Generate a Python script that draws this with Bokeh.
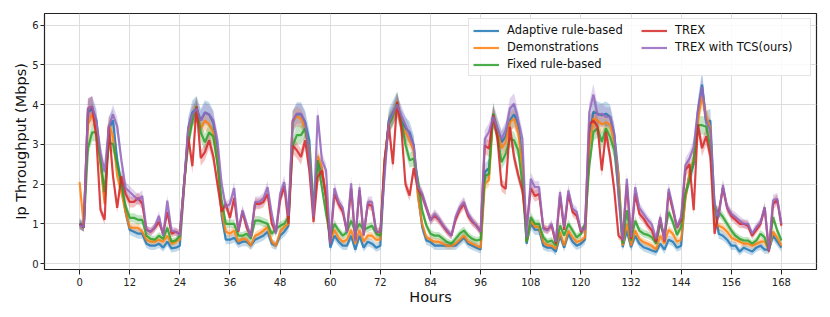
from bokeh.plotting import figure
from bokeh.models import Range1d, Legend, LegendItem, FixedTicker
from bokeh.embed import file_html
from bokeh.resources import INLINE

hours = list(range(169))

adaptive = [
    1.0, 0.95, 3.8, 3.9, 3.6, 2.6, 1.6, 3.4, 3.6, 2.6, 2.0, 1.3,
    0.85, 0.8, 0.75, 0.75, 0.5, 0.45, 0.45, 0.5, 0.4, 0.55, 0.38, 0.4,
    0.45, 1.9, 3.4, 3.8, 3.9, 3.6, 3.8, 3.75, 3.55, 2.8, 1.2, 0.6,
    0.6, 0.65, 0.5, 0.55, 0.55, 0.45, 0.6, 0.65, 0.7, 0.8, 0.5, 0.45,
    0.7, 0.8, 0.95, 3.55, 3.75, 3.75, 3.55, 3.1, 1.4, 2.55, 2.35, 1.65,
    0.4, 0.7, 0.55, 0.45, 0.45, 0.7, 0.35, 0.7, 0.4, 0.55, 0.5, 0.4,
    0.45, 2.4, 3.6, 3.8, 4.0, 3.6, 3.4, 3.3, 2.97, 1.76, 0.92, 0.58,
    0.54, 0.45, 0.45, 0.45, 0.45, 0.45, 0.45, 0.55, 0.65, 0.5, 0.45, 0.4,
    0.35, 2.3, 2.4, 3.75, 3.4, 3.05, 3.2, 3.6, 3.75, 3.5, 2.6, 0.5,
    1.0, 0.85, 0.85, 0.45, 0.4, 0.4, 0.3, 0.7, 0.4, 0.75, 0.55, 0.45,
    0.5, 0.6, 3.2, 3.82, 3.77, 3.73, 3.77, 3.69, 3.23, 2.26, 0.41, 0.83,
    0.41, 0.7, 0.5, 0.41, 0.37, 0.33, 0.29, 0.5, 0.35, 0.6, 0.55, 0.4,
    0.45, 1.7, 2.2, 2.5, 3.8, 4.5, 3.55, 3.6, 1.4, 0.75, 0.7, 0.6,
    0.45, 0.45, 0.3, 0.4, 0.35, 0.3, 0.4, 0.45, 0.35, 0.35, 0.7, 0.55, 0.4,
]

demonstrations = [
    2.05, 0.95, 3.5, 3.75, 3.5, 2.5, 1.5, 3.5, 3.2, 2.2, 1.8, 1.3,
    0.9, 0.9, 0.9, 0.8, 0.6, 0.55, 0.55, 0.6, 0.55, 0.7, 0.5, 0.55,
    0.6, 1.9, 3.3, 3.7, 3.8, 3.4, 3.6, 3.5, 3.3, 2.6, 1.3, 0.8,
    0.75, 0.83, 0.55, 0.62, 0.6, 0.45, 0.7, 0.75, 0.83, 0.92, 0.55, 0.45,
    0.8, 0.92, 1.0, 3.6, 3.7, 3.65, 3.4, 2.85, 1.25, 2.7, 2.4, 1.7,
    0.55, 0.85, 0.65, 0.55, 0.6, 0.85, 0.5, 0.85, 0.55, 0.7, 0.7, 0.6,
    0.6, 2.6, 3.5, 3.7, 3.95, 3.5, 3.3, 3.1, 2.85, 1.67, 1.0, 0.66,
    0.6, 0.55, 0.55, 0.5, 0.45, 0.45, 0.5, 0.6, 0.7, 0.55, 0.5, 0.45,
    0.4, 2.0, 2.1, 3.73, 3.35, 2.9, 3.05, 3.55, 3.65, 3.3, 2.4, 0.55,
    1.08, 0.92, 0.92, 0.54, 0.45, 0.45, 0.37, 0.8, 0.45, 0.83, 0.66, 0.54,
    0.58, 0.65, 2.9, 3.65, 3.6, 3.5, 3.55, 3.5, 3.05, 2.2, 0.45, 1.0,
    0.45, 0.83, 0.62, 0.54, 0.5, 0.45, 0.35, 0.7, 0.5, 0.85, 0.75, 0.55,
    0.6, 1.6, 2.3, 2.6, 3.6, 4.2, 3.7, 3.4, 1.0, 0.95, 0.9, 0.8,
    0.65, 0.6, 0.55, 0.5, 0.5, 0.45, 0.5, 0.55, 0.55, 0.35, 0.8, 0.65, 0.45,
]

fixed = [
    1.0, 0.9, 2.9, 3.3, 3.3, 2.6, 1.8, 3.05, 3.0, 2.5, 2.0, 1.45,
    1.15, 1.15, 1.1, 1.1, 0.7, 0.62, 0.6, 0.7, 0.62, 0.9, 0.55, 0.58,
    0.7, 2.0, 3.0, 3.6, 3.95, 3.3, 3.05, 3.3, 3.2, 2.5, 1.6, 1.0,
    1.0, 1.0, 0.7, 0.7, 0.75, 0.62, 1.08, 1.08, 1.04, 1.0, 0.75, 0.87,
    0.95, 1.0, 1.17, 2.97, 3.23, 3.23, 3.4, 2.72, 1.34, 2.6, 1.92, 1.25,
    0.66, 1.0, 0.83, 0.7, 0.79, 1.08, 0.8, 1.0, 0.85, 0.9, 0.95, 0.75,
    0.7, 2.5, 3.5, 3.7, 4.05, 3.6, 3.0, 2.6, 2.64, 2.1, 1.34, 0.96,
    0.75, 0.7, 0.7, 0.62, 0.54, 0.5, 0.62, 0.75, 0.83, 0.7, 0.62, 0.58,
    0.6, 2.2, 2.25, 3.77, 3.23, 2.55, 2.76, 3.14, 3.1, 2.85, 2.0, 0.54,
    1.17, 1.0, 1.0, 0.66, 0.54, 0.58, 0.45, 0.96, 0.7, 1.0, 0.83, 0.66,
    0.75, 1.0, 2.43, 3.31, 3.4, 3.06, 3.4, 3.18, 2.85, 1.84, 0.5, 1.34,
    0.58, 1.08, 0.83, 0.75, 0.72, 0.66, 0.5, 1.0, 0.7, 1.3, 1.05, 0.72,
    0.92, 1.76, 2.1, 2.6, 3.48, 3.48, 3.44, 2.93, 1.38, 1.3, 1.17, 1.0,
    0.83, 0.7, 0.62, 0.58, 0.58, 0.5, 0.58, 0.75, 0.66, 0.33, 1.17, 0.83, 0.58,
]

trex = [
    1.0, 0.9, 3.9, 3.95, 3.2, 1.35, 1.1, 3.45, 2.2, 1.4, 2.2, 1.75,
    1.55, 1.55, 1.65, 1.5, 0.85, 0.8, 0.9, 1.05, 0.75, 1.3, 0.75, 0.8,
    0.75, 2.0, 3.2, 2.45, 3.95, 2.65, 2.8, 3.1, 2.7, 2.0, 1.3, 1.5,
    1.15, 1.65, 0.8, 1.3, 0.9, 0.7, 1.5, 1.5, 1.55, 1.75, 1.0, 0.8,
    1.6, 1.95, 1.0, 2.97, 2.85, 2.68, 3.1, 2.34, 1.04, 2.18, 2.34, 1.67,
    0.5, 1.75, 1.5, 1.3, 0.8, 1.9, 0.6, 1.85, 0.7, 1.5, 1.45, 0.8,
    0.8, 2.6, 3.5, 2.5, 4.07, 3.44, 2.0, 1.71, 2.4, 1.88, 1.71, 1.4,
    1.1, 1.2, 1.1, 0.95, 0.8, 0.7, 1.1, 1.35, 1.5, 1.2, 1.05, 0.95,
    0.8, 2.97, 2.89, 3.73, 3.18, 1.97, 1.88, 3.44, 2.68, 2.22, 1.84, 0.92,
    1.9, 1.7, 1.75, 0.9, 0.85, 0.95, 0.5, 1.7, 0.85, 1.75, 1.3, 1.2,
    0.8, 0.9, 3.5, 3.6, 3.44, 2.34, 3.31, 2.68, 1.84, 0.7, 0.6, 2.0,
    0.62, 1.76, 1.25, 1.13, 0.96, 0.83, 0.54, 1.15, 0.55, 1.8, 1.35, 0.9,
    1.1, 2.35, 2.5, 1.34, 3.5, 2.9, 3.2, 2.7, 0.75, 1.3, 1.9, 1.4,
    1.2, 1.1, 1.0, 1.0, 0.95, 0.7, 0.85, 1.0, 1.4, 0.3, 1.5, 1.6, 0.95,
]

trex_tcs = [
    0.96, 0.92, 3.9, 3.95, 3.6, 2.8, 2.3, 3.45, 3.75, 3.45, 2.6, 1.9,
    1.8, 1.7, 1.6, 1.7, 0.85, 0.8, 0.92, 1.2, 0.7, 1.58, 0.83, 0.8,
    0.72, 2.0, 3.4, 3.75, 3.9, 3.6, 3.8, 3.75, 3.6, 3.1, 2.0, 1.42,
    1.5, 1.9, 0.83, 1.34, 1.0, 0.66, 1.55, 1.55, 1.63, 1.92, 1.25, 0.75,
    1.75, 2.05, 1.2, 3.6, 3.77, 3.77, 3.56, 2.68, 1.17, 3.73, 2.6, 2.34,
    0.5, 1.9, 1.55, 1.4, 0.78, 2.02, 0.56, 1.92, 0.72, 1.55, 1.55, 0.8,
    0.8, 2.2, 3.56, 3.77, 4.0, 3.73, 3.48, 3.23, 2.97, 1.92, 1.76, 1.42,
    1.08, 1.25, 1.13, 0.96, 0.83, 0.7, 1.17, 1.42, 1.55, 1.25, 1.08, 0.96,
    0.8, 3.14, 3.31, 3.69, 3.4, 3.14, 3.35, 3.9, 4.02, 3.6, 3.14, 0.66,
    2.13, 1.92, 1.92, 0.87, 0.83, 1.0, 0.54, 1.8, 0.92, 1.84, 1.38, 1.3,
    0.83, 0.87, 3.8, 4.25, 3.73, 3.77, 3.69, 3.69, 3.27, 1.67, 0.58, 2.13,
    0.66, 1.92, 1.4, 1.25, 1.1, 0.98, 0.62, 1.17, 0.58, 1.88, 1.42, 0.92,
    1.17, 2.47, 2.64, 2.93, 3.86, 4.45, 3.56, 3.35, 1.5, 1.17, 1.97, 1.42,
    1.25, 1.17, 1.08, 1.0, 1.0, 0.75, 0.92, 1.04, 1.42, 0.33, 1.59, 1.63, 1.0,
]

labels = ["Adaptive rule-based", "Demonstrations", "Fixed rule-based",
          "TREX", "TREX with TCS(ours)"]
colors = ["#1f77b4", "#ff7f0e", "#2ca02c", "#d62728", "#9467bd"]
# spread of the shaded band: (base, proportional part) per series
spread = [(0.08, 0.06), (0.06, 0.05), (0.06, 0.05), (0.06, 0.05), (0.06, 0.05)]
x_ticks = [0, 12, 24, 36, 48, 60, 72, 84, 96, 108, 120, 132, 144, 156, 168]
y_ticks = [0, 1, 2, 3, 4, 5, 6]

series = [adaptive, demonstrations, fixed, trex, trex_tcs]

p = figure(width=822, height=309, output_backend="svg", toolbar_location=None,
           x_range=Range1d(-8.4, 176.4), y_range=Range1d(-0.15, 6.29),
           min_border_left=44, min_border_right=6, min_border_top=13,
           min_border_bottom=40)

renderers = []
for vals, col, (b, k) in zip(series, colors, spread):
    lo = [v - (b + k * v) for v in vals]
    hi = [v + (b + k * v) for v in vals]
    p.varea(x=hours, y1=lo, y2=hi, fill_color=col, fill_alpha=0.28)
for vals, col in zip(series, colors):
    r = p.line(hours, vals, line_color=col, line_width=2.2, line_alpha=0.85)
    renderers.append(r)

items = [LegendItem(label=lab, renderers=[r]) for lab, r in zip(labels, renderers)]
legend = Legend(items=items, location="top_right", nrows=3,
                orientation="vertical",
                label_text_font="DejaVu Sans", label_text_font_size="11.5px",
                label_text_color="#111111",
                glyph_width=26, glyph_height=11, label_height=11,
                label_width=131,
                label_standoff=8, spacing=3, padding=4, margin=5,
                border_line_color="#cccccc", border_line_width=1,
                background_fill_color="white", background_fill_alpha=0.85)
p.add_layout(legend)

p.xaxis.ticker = FixedTicker(ticks=x_ticks)
p.yaxis.ticker = FixedTicker(ticks=y_ticks)
for ax in (p.xaxis, p.yaxis):
    ax.major_label_text_font = "DejaVu Sans"
    ax.major_label_text_font_size = "10px"
    ax.major_label_text_color = "#222222"
    ax.axis_label_text_font = "DejaVu Sans"
    ax.axis_label_text_font_size = "14.5px"
    ax.axis_label_text_font_style = "normal"
    ax.axis_label_text_color = "#111111"
    ax.major_tick_in = 0
    ax.major_tick_out = 5
    ax.minor_tick_in = 0
    ax.minor_tick_out = 0
    ax.major_tick_line_color = "#222222"
    ax.axis_line_color = None
    ax.major_label_standoff = 3
p.yaxis.major_tick_out = 4
p.yaxis.major_label_standoff = 2
p.xaxis.axis_label = "Hours"
p.yaxis.axis_label = "Ip Throughput (Mbps)"
p.xaxis.axis_label_standoff = 0
p.yaxis.axis_label_standoff = 0

p.xgrid.grid_line_color = "#dddddd"
p.ygrid.grid_line_color = "#dddddd"
p.outline_line_color = "#222222"
p.outline_line_width = 1.2
p.outline_line_alpha = 1.0
p.background_fill_color = "white"
p.border_fill_color = "white"

open("out.html", "w").write(file_html(p, INLINE))
